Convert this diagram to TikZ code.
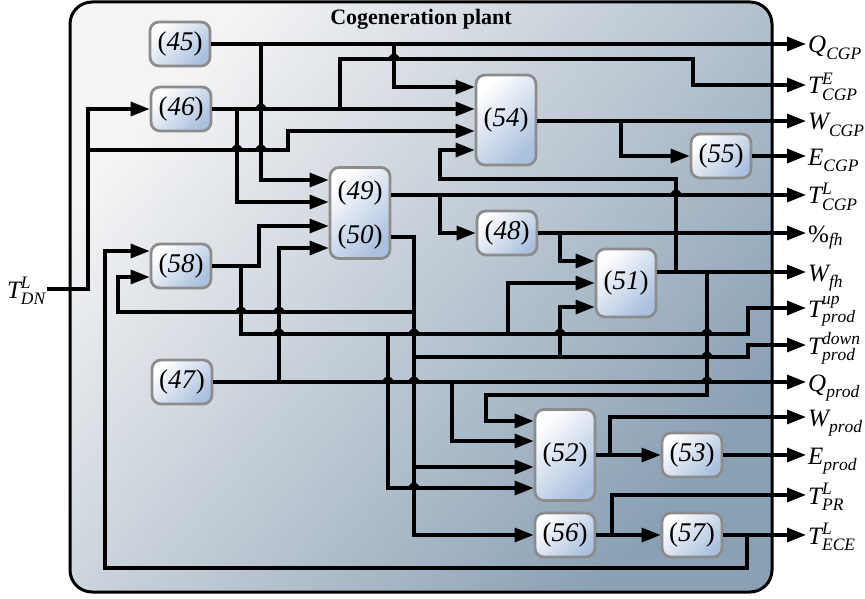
\documentclass[tikz,border=0pt]{standalone}
\usepackage{fontspec}
\setmainfont{Liberation Serif}
\usetikzlibrary{arrows.meta}
\definecolor{frameA}{RGB}{244,244,245}
\definecolor{frameB}{RGB}{138,160,180}
\definecolor{blkB}{RGB}{170,192,222}
\definecolor{blkE}{RGB}{140,140,140}
\newcommand{\myhop}[2]{\draw[line width=2.2pt,line cap=round] (#1-5,#2) .. controls (#1-2,#2-6) and (#1+2,#2-6) .. (#1+5,#2);}
\newcommand{\olab}[3]{$\mathit{#1}^{\mathit{#2}}_{\mathit{#3}}$}
\begin{document}
\begin{tikzpicture}[x=1pt,y=-1pt,
  wire/.style={line width=3.2pt},
  arr/.style={wire,-{Triangle[length=19pt,width=14pt]}},
  blk/.style={draw=blkE, line width=2.8pt, rounded corners=9pt, top color=white, bottom color=blkB, shading angle=45, minimum width=60pt, minimum height=44pt, inner sep=0pt, font=\fontsize{27}{30}\selectfont},
  lbl/.style={font=\fontsize{25}{30}\selectfont, inner sep=0pt, anchor=base west},
]
\useasboundingbox (0,0) rectangle (865,599);
\path[draw, line width=3pt, rounded corners=22pt, top color=frameA, bottom color=frameB, shading angle=50] (70,2) rectangle (772,592);
\node[font=\bfseries\fontsize{22}{24}\selectfont] (title) at (421,19) {Cogeneration plant};

% blocks
\node[blk] (n45) at (180,44) {(\textit{45})};
\node[blk] (n46) at (181,109) {(\textit{46})};
\node[blk, minimum height=90pt] (n54) at (506,120) {(\textit{54})};
\node[blk] (n55) at (721,156) {(\textit{55})};
\node[blk, minimum height=91pt] (n4950) at (360,213) {};
\node[font=\fontsize{27}{30}\selectfont, inner sep=0pt] (n49) at (360,193) {(\textit{49})};
\node[font=\fontsize{27}{30}\selectfont, inner sep=0pt] (n50) at (360,237) {(\textit{50})};
\node[blk] (n48) at (507,233) {(\textit{48})};
\node[blk, minimum height=68pt] (n51) at (626,283) {(\textit{51})};
\node[blk] (n58) at (181,266) {(\textit{58})};
\node[blk] (n47) at (182,382) {(\textit{47})};
\node[blk, minimum height=91pt] (n52) at (565,455) {(\textit{52})};
\node[blk] (n53) at (692,455) {(\textit{53})};
\node[blk] (n56) at (565,535) {(\textit{56})};
\node[blk] (n57) at (692,535) {(\textit{57})};

% input
\node[font=\fontsize{25}{30}\selectfont, inner sep=0pt, anchor=base east] (tdn) at (46,298) {\olab{T}{L}{DN}};
\coordinate (cTDN) at (47,289);

% outputs
\foreach \n/\yy in {QC/44,TEC/85,WC/121,EC/156,TLC/195,pfh/233,Wfh/272,Tup/308,Tdown/345,Qp/382,Wp/417,Ep/455,TPR/495,TECE/535}{
  \coordinate (c\n) at (806,\yy);
}
\node[lbl] (oQC) at (808,53) {\olab{Q}{}{CGP}};
\node[lbl] (oTEC) at (808,94) {\olab{T}{E}{CGP}};
\node[lbl] (oWC) at (808,130) {\olab{W}{}{CGP}};
\node[lbl] (oEC) at (808,165) {\olab{E}{}{CGP}};
\node[lbl] (oTLC) at (808,204) {\olab{T}{L}{CGP}};
\node[lbl] (opfh) at (808,242) {$\mathrm{\%}_{\mathit{fh}}$};
\node[lbl] (oWfh) at (808,281) {\olab{W}{}{fh}};
\node[lbl] (oTup) at (808,317) {\olab{T}{up}{prod}};
\node[lbl] (oTdown) at (808,354) {\olab{T}{down}{prod}};
\node[lbl] (oQp) at (808,391) {\olab{Q}{}{prod}};
\node[lbl] (oWp) at (808,426) {\olab{W}{}{prod}};
\node[lbl] (oEp) at (808,464) {\olab{E}{}{prod}};
\node[lbl] (oTPR) at (808,504) {\olab{T}{L}{PR}};
\node[lbl] (oTECE) at (808,544) {\olab{T}{L}{ECE}};

% T_DN
\draw[arr] (cTDN) -- (88,289) -- (88,109) -- (n46.west);
\draw[arr] (88,150) -- (288,150) -- (288,131) -- (n54.west|-0,131);
% (45)
\draw[arr] (n45.east) -- (cQC);
\draw[arr] (261,44) -- (261,180) -- (n4950.west|-0,180);
\draw[arr] (394,44) -- (394,87) -- (n54.west|-0,87);
% (46)
\draw[arr] (n46.east) -- (n54.west|-0,109);
\draw[arr] (237,109) -- (237,202) -- (n4950.west|-0,202);
\draw[arr] (340,109) -- (340,59) -- (693,59) -- (693,85) -- (cTEC);
% (54)
\draw[arr] (n54.east|-0,121) -- (cWC);
\draw[arr] (621,121) -- (621,156) -- (n55.west);
\draw[arr] (n55.east) -- (cEC);
% (49)
\draw[arr] (n4950.east|-0,195) -- (cTLC);
\draw[arr] (440,195) -- (440,233) -- (n48.west);
% (50)
\draw[arr] (n4950.east|-0,237) -- (414,237) -- (414,535) -- (n56.west);
\draw[arr] (414,312) -- (118,312) -- (118,277) -- (n58.west|-0,277);
\draw[arr] (414,357) -- (748,357) -- (748,345) -- (cTdown);
\draw[arr] (560,357) -- (560,307) -- (n51.west|-0,307);
\draw[arr] (414,467) -- (n52.west|-0,467);
% (58)
\draw[arr] (n58.east) -- (259,266) -- (259,226) -- (n4950.west|-0,226);
\draw[arr] (241,266) -- (241,334) -- (748,334) -- (748,308) -- (cTup);
\draw[arr] (388,334) -- (388,488) -- (n52.west|-0,488);
\draw[arr] (508,334) -- (508,283) -- (n51.west|-0,283);
% (47)
\draw[arr] (n47.east) -- (cQp);
\draw[arr] (279,382) -- (279,248) -- (n4950.west|-0,248);
\draw[arr] (452,382) -- (452,441) -- (n52.west|-0,441);
% (48)
\draw[arr] (n48.east) -- (cpfh);
\draw[arr] (560,233) -- (560,261) -- (n51.west|-0,261);
% (51)
\draw[arr] (n51.east|-0,272) -- (cWfh);
\draw[arr] (676,272) -- (676,179) -- (440,179) -- (440,150) -- (n54.west|-0,150);
\draw[arr] (707,272) -- (707,395) -- (486,395) -- (486,421) -- (n52.west|-0,421);
% (52),(53)
\draw[arr] (n52.east) -- (n53.west);
\draw[arr] (610,455) -- (610,417) -- (cWp);
\draw[arr] (n53.east) -- (cEp);
% (56),(57)
\draw[arr] (n56.east) -- (n57.west);
\draw[arr] (612,535) -- (612,495) -- (cTPR);
\draw[arr] (n57.east) -- (cTECE);
\draw[arr] (747,535) -- (747,568) -- (105,568) -- (105,251) -- (n58.west|-0,251);

% hops
\foreach \hx/\hy in {261/109,261/150,237/150,394/59,676/195,241/312,279/312,279/334,414/334,388/382,414/382,414/488,560/334,707/334,707/357,707/382}{
  \myhop{\hx}{\hy}
}
\end{tikzpicture}
\end{document}
